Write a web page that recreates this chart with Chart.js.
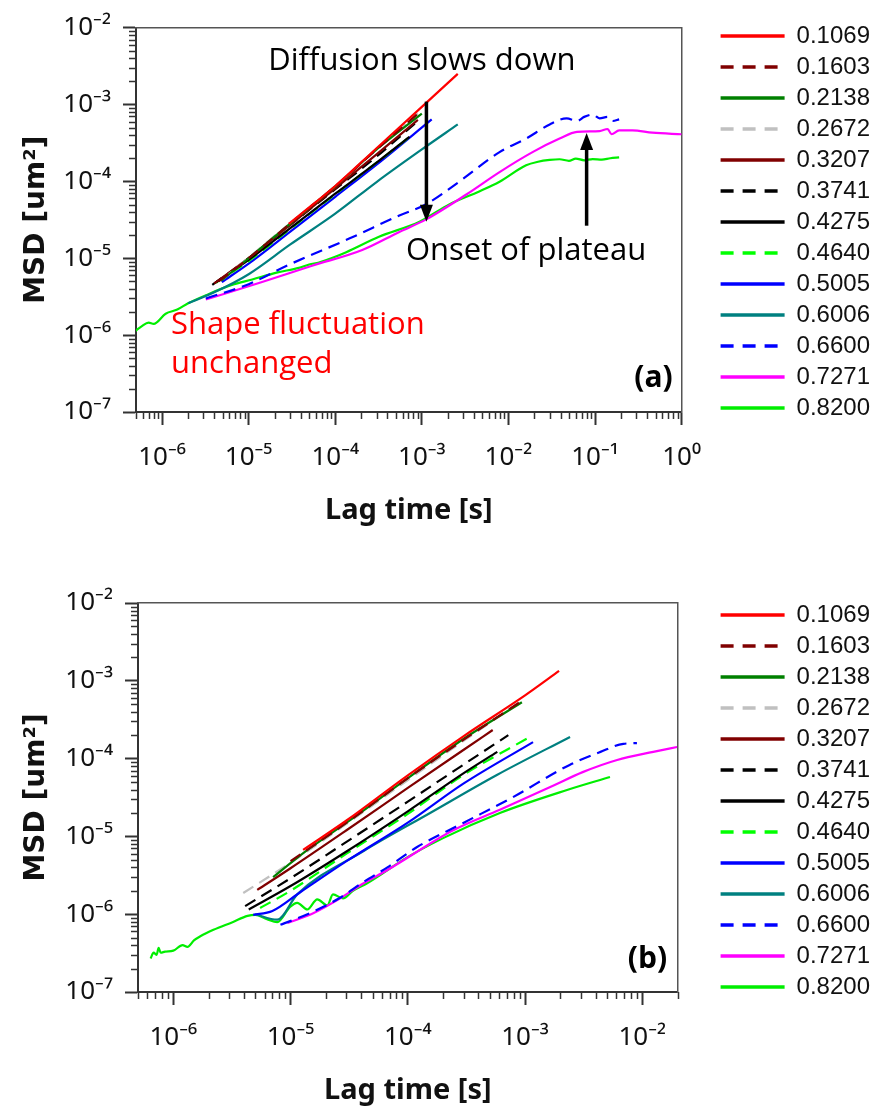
<!DOCTYPE html>
<html>
<head>
<meta charset="utf-8">
<script src="https://cdn.jsdelivr.net/npm/chart.js@4.4.1/dist/chart.umd.min.js"></script>
<style>
  html, body { margin: 0; padding: 0; background: #fff; }
  .panel { position: absolute; left: 0; width: 880px; height: 555px; }
  #panelA { top: 0; }
  #panelB { top: 555px; }
</style>
</head>
<body>
<div class="panel" id="panelA"><canvas id="chartA"></canvas></div>
<div class="panel" id="panelB"><canvas id="chartB"></canvas></div>
<script>
// MSD vs lag time, two log-log panels

const seriesLabels = ['0.1069', '0.1603', '0.2138', '0.2672', '0.3207', '0.3741', '0.4275',
                      '0.4640', '0.5005', '0.6006', '0.6600', '0.7271', '0.8200'];
const seriesColors = ['#ff0000', '#800000', '#008000', '#c0c0c0', '#800000', '#000000', '#000000',
                      '#00ff00', '#0000ff', '#008080', '#0000ff', '#ff00ff', '#00ee00'];
const seriesDashed = [false, true, false, true, false, true, false, true, false, false, true, false, false];

// tick labels
const yTickValues = [1e-7, 1e-6, 1e-5, 1e-4, 1e-3, 1e-2];
const yTickLabels = ['10⁻⁷', '10⁻⁶', '10⁻⁵', '10⁻⁴', '10⁻³', '10⁻²'];
const xTickValuesA = [1e-6, 1e-5, 1e-4, 1e-3, 1e-2, 1e-1, 1];
const xTickLabelsA = ['10⁻⁶', '10⁻⁵', '10⁻⁴', '10⁻³', '10⁻²', '10⁻¹', '10⁰'];
const xTickValuesB = [1e-6, 1e-5, 1e-4, 1e-3, 1e-2];
const xTickLabelsB = ['10⁻⁶', '10⁻⁵', '10⁻⁴', '10⁻³', '10⁻²'];

// panel (a): [lag time (s), MSD (um^2)]
const a1069 = [[2.9e-5, 2.8e-5], [6e-5, 5.4e-5], [1e-4, 8.7e-5], [3e-4, 2.7e-4], [1e-3, 9.3e-4], [2.6e-3, 2.5e-3]];
const a1603 = [[4.5e-6, 5e-6], [1e-5, 1e-5], [3e-5, 2.8e-5], [1e-4, 8.6e-5], [3e-4, 2.6e-4], [1e-3, 8.4e-4]];
const a2138 = [[4.8e-6, 5.1e-6], [1e-5, 1e-5], [3e-5, 2.8e-5], [1e-4, 8.6e-5], [3e-4, 2.6e-4], [1e-3, 7.6e-4]];
const a2672 = [[5e-6, 5.3e-6], [1e-5, 1.02e-5], [3e-5, 2.85e-5], [1e-4, 8.7e-5], [3e-4, 2.6e-4], [9e-4, 7.6e-4]];
const a3207 = [[4e-6, 4.7e-6], [1e-5, 1e-5], [3e-5, 2.7e-5], [1e-4, 8.1e-5], [3e-4, 2.25e-4], [9e-4, 6.3e-4]];
const a3741 = [[3.8e-6, 4.5e-6], [1e-5, 1e-5], [3e-5, 2.7e-5], [1e-4, 7.9e-5], [3e-4, 2.1e-4], [8.9e-4, 6.05e-4]];
const a4275 = [[4.2e-6, 4.9e-6], [1e-5, 9.5e-6], [3e-5, 2.45e-5], [1e-4, 6.9e-5], [3e-4, 1.75e-4], [7.2e-4, 3.8e-4]];
const a4640 = [[4.2e-6, 4.8e-6], [1e-5, 9.2e-6], [3e-5, 2.4e-5], [1e-4, 6.8e-5], [3e-4, 1.75e-4], [7.5e-4, 3.9e-4]];
const a5005 = [[4.9e-6, 4.9e-6], [1e-5, 8.5e-6], [3e-5, 2.2e-5], [1e-4, 6.3e-5], [3e-4, 1.65e-4], [1.3e-3, 6.4e-4]];
const a6006 = [[2e-6, 2.6e-6], [4e-6, 3.6e-6], [1e-5, 6.2e-6], [3e-5, 1.5e-5], [1e-4, 3.8e-5], [3e-4, 9.8e-5],
               [1e-3, 2.6e-4], [2.6e-3, 5.5e-4]];
const a6600 = [[3.2e-6, 3.0e-6], [1e-5, 4.6e-6], [2.9e-5, 8.2e-6], [1.45e-4, 1.8e-5], [5.5e-4, 3.6e-5],
               [1.12e-3, 5.05e-5], [2.7e-3, 9.9e-5], [7.9e-3, 2.4e-4], [1.6e-2, 3.6e-4], [3e-2, 5.5e-4],
               [4.7e-2, 6.6e-4], [6.2e-2, 6.1e-4], [7.5e-2, 6.9e-4], [9.4e-2, 7.4e-4], [0.113, 6.6e-4],
               [0.14, 6.9e-4], [0.16, 6.1e-4], [0.19, 6.4e-4]];
const a7271 = [[3.2e-6, 2.9e-6], [1.43e-5, 4.9e-6], [5.4e-5, 8e-6], [2.05e-4, 1.28e-5], [5.5e-4, 2.2e-5],
               [1.12e-3, 3.2e-5], [3.3e-3, 6.8e-5], [7.9e-3, 1.32e-4], [1.9e-2, 2.4e-4], [3.9e-2, 3.6e-4],
               [6.2e-2, 4.4e-4], [0.113, 4.5e-4], [0.14, 4.8e-4], [0.155, 4.1e-4], [0.19, 4.6e-4],
               [0.27, 4.6e-4], [0.46, 4.3e-4], [1.0, 4.1e-4]];
const a8200 = [[4.9e-7, 1.13e-6], [5.8e-7, 1.3e-6], [7e-7, 1.45e-6], [8e-7, 1.4e-6], [1.1e-6, 1.9e-6],
               [1.5e-6, 2.15e-6], [2e-6, 2.6e-6], [3.2e-6, 3.3e-6], [6.4e-6, 4.5e-6], [1.1e-5, 5.3e-6],
               [2.1e-5, 6.5e-6], [3.8e-5, 7.5e-6], [5e-5, 8.3e-6], [6.5e-5, 8.8e-6], [9e-5, 1.0e-5],
               [1.34e-4, 1.2e-5], [3.2e-4, 1.9e-5], [9.4e-4, 2.98e-5], [2.1e-3, 5.05e-5], [4.6e-3, 7.4e-5],
               [7.9e-3, 9.9e-5], [1.6e-2, 1.62e-4], [2.2e-2, 1.8e-4], [3e-2, 1.9e-4], [3.9e-2, 1.94e-4],
               [5e-2, 1.85e-4], [6e-2, 1.98e-4], [7.5e-2, 1.88e-4], [9.4e-2, 1.95e-4], [0.12, 1.92e-4],
               [0.15, 2.0e-4], [0.19, 2.05e-4]];

// panel (b)
const b1069 = [[1.28e-5, 6.7e-6], [3e-5, 1.6e-5], [1e-4, 6.1e-5], [3e-4, 1.95e-4], [1e-3, 6.5e-4], [1.95e-3, 1.34e-3]];
const b1603 = [[1e-5, 4.8e-6], [3e-5, 1.5e-5], [1e-4, 5.6e-5], [3e-4, 1.75e-4], [9e-4, 5.3e-4]];
const b2138 = [[7.1e-6, 3.0e-6], [1.3e-5, 6.2e-6], [3e-5, 1.5e-5], [1e-4, 5.6e-5], [3e-4, 1.8e-4], [9.4e-4, 5.3e-4]];
const b2672 = [[3.95e-6, 1.87e-6], [1e-5, 4.6e-6], [3e-5, 1.45e-5], [1e-4, 5.3e-5], [3e-4, 1.7e-4], [8.5e-4, 5e-4]];
const b3207 = [[5.2e-6, 2.05e-6], [1e-5, 3.9e-6], [3e-5, 1.2e-5], [1e-4, 4.2e-5], [3e-4, 1.3e-4], [5.3e-4, 2.33e-4]];
const b3741 = [[4.1e-6, 1.27e-6], [1e-5, 2.9e-6], [3e-5, 8.5e-6], [1e-4, 2.8e-5], [3e-4, 8.4e-5], [7.2e-4, 2.0e-4]];
const b4275 = [[4.4e-6, 1.15e-6], [1e-5, 2.3e-6], [3e-5, 6.4e-6], [1e-4, 2.1e-5], [3e-4, 6.5e-5], [5.8e-4, 1.22e-4]];
const b4640 = [[5.5e-6, 1.2e-6], [1e-5, 2.0e-6], [3e-5, 6.0e-6], [1e-4, 1.95e-5], [3e-4, 6.2e-5], [1.1e-3, 1.9e-4]];
const b5005 = [[4.8e-6, 9.8e-7], [7e-6, 1.1e-6], [1.2e-5, 1.9e-6], [3e-5, 4.8e-6], [1e-4, 1.5e-5], [3e-4, 4.8e-5],
               [1.17e-3, 1.63e-4]];
const b6006 = [[5e-6, 1.0e-6], [7.7e-6, 8.5e-7], [1.14e-5, 1.8e-6], [4.2e-5, 6.5e-6], [1.55e-4, 2.0e-5],
               [5.8e-4, 6.2e-5], [2.42e-3, 1.9e-4]];
const b6600 = [[8.2e-6, 7.3e-7], [1.5e-5, 1.05e-6], [2.6e-5, 1.6e-6], [4.2e-5, 2.6e-6], [6.7e-5, 4.0e-6],
               [1.2e-4, 7.3e-6], [3e-4, 1.5e-5], [7.9e-4, 3.2e-5], [2.4e-3, 8.3e-5], [4.4e-3, 1.22e-4],
               [6.9e-3, 1.55e-4], [9e-3, 1.58e-4]];
const b7271 = [[9.4e-6, 7.7e-7], [1.56e-5, 1.03e-6], [2.65e-5, 1.6e-6], [4.2e-5, 2.5e-6], [6.7e-5, 3.7e-6],
               [2.44e-4, 1.2e-5], [6.1e-4, 2.2e-5], [1.64e-3, 4.3e-5], [3.1e-3, 6.7e-5], [6.1e-3, 9.6e-5],
               [1.24e-2, 1.22e-4], [1.98e-2, 1.41e-4]];
const b8200 = [[6.4e-7, 2.7e-7], [6.8e-7, 3.2e-7], [7.2e-7, 3.0e-7], [7.5e-7, 3.7e-7], [7.8e-7, 3.2e-7],
               [8.5e-7, 3.3e-7], [1e-6, 3.4e-7], [1.2e-6, 4.0e-7], [1.32e-6, 3.8e-7], [1.5e-6, 4.6e-7],
               [1.7e-6, 5.2e-7], [2.2e-6, 6.3e-7], [3.2e-6, 7.9e-7], [4.3e-6, 9.5e-7], [5e-6, 9.8e-7],
               [6.3e-6, 8.6e-7], [7.7e-6, 7.9e-7], [9.9e-6, 1.24e-6], [1.14e-5, 1.4e-6], [1.39e-5, 1.15e-6],
               [1.69e-5, 1.55e-6], [2.06e-5, 1.3e-6], [2.3e-5, 1.8e-6], [2.8e-5, 1.6e-6], [3.4e-5, 2.0e-6],
               [4.5e-5, 2.5e-6], [6.2e-5, 3.4e-6], [9.1e-5, 5.0e-6], [2e-4, 9.5e-6], [6.1e-4, 2.0e-5],
               [2.28e-3, 3.95e-5], [5.3e-3, 5.8e-5]];

const seriesA = [a1069, a1603, a2138, a2672, a3207, a3741, a4275, a4640, a5005, a6006, a6600, a7271, a8200];
const seriesB = [b1069, b1603, b2138, b2672, b3207, b3741, b4275, b4640, b5005, b6006, b6600, b7271, b8200];

Chart.defaults.font.family = "'Noto Sans', 'DejaVu Sans', sans-serif";
Chart.defaults.color = '#111';

// every decade gets 1..9 ticks; only decades are labelled
function logTicks(min, max) {
  const ticks = [];
  for (let e = Math.floor(Math.log10(min)); e <= Math.ceil(Math.log10(max)); e++) {
    for (let k = 1; k <= 9; k++) {
      const v = k * Math.pow(10, e);
      if (v >= min * 0.999 && v <= max * 1.001) ticks.push({ value: v, major: k === 1 });
    }
  }
  return ticks;
}

function tickLabel(value, values, labels) {
  const i = values.findIndex(t => Math.abs(value / t - 1) < 1e-6);
  return i >= 0 ? labels[i] : '';
}

// short minor tick marks
const minorTicks = {
  id: 'minorTicks',
  afterDraw(chart) {
    const { ctx, chartArea } = chart;
    ctx.save();
    ctx.strokeStyle = '#333';
    ctx.lineWidth = 1.5;
    ['x', 'y'].forEach(id => {
      const scale = chart.scales[id];
      scale.ticks.forEach(t => {
        if (t.major) return;
        const p = Math.round(scale.getPixelForValue(t.value)) + 0.5;
        ctx.beginPath();
        if (id === 'x') {
          ctx.moveTo(p, chartArea.bottom);
          ctx.lineTo(p, chartArea.bottom + 7);
        } else {
          ctx.moveTo(chartArea.left, p);
          ctx.lineTo(chartArea.left - 7, p);
        }
        ctx.stroke();
      });
    });
    ctx.restore();
  }
};

// arrows and text notes, placed in data coordinates
const notes = {
  id: 'notes',
  afterDatasetsDraw(chart, args, opts) {
    const { ctx } = chart;
    const xs = chart.scales.x, ys = chart.scales.y;
    ctx.save();
    (opts.arrows || []).forEach(a => {
      const px = xs.getPixelForValue(a.x);
      const y0 = ys.getPixelForValue(a.from);
      const y1 = ys.getPixelForValue(a.to);
      const dir = Math.sign(y1 - y0);
      ctx.strokeStyle = '#000';
      ctx.fillStyle = '#000';
      ctx.lineWidth = 3.5;
      ctx.beginPath();
      ctx.moveTo(px, y0);
      ctx.lineTo(px, y1 - dir * 12);
      ctx.stroke();
      ctx.beginPath();
      ctx.moveTo(px, y1);
      ctx.lineTo(px - 6.5, y1 - dir * 17);
      ctx.lineTo(px + 6.5, y1 - dir * 17);
      ctx.closePath();
      ctx.fill();
    });
    (opts.texts || []).forEach(t => {
      ctx.font = t.font;
      ctx.fillStyle = t.color;
      ctx.textAlign = t.align;
      ctx.textBaseline = 'alphabetic';
      ctx.fillText(t.text, xs.getPixelForValue(t.x), ys.getPixelForValue(t.y));
    });
    ctx.restore();
  }
};

function makeChart(canvasId, series, xMin, xMax, xVals, xLabels, lay, noteOpts) {
  const datasets = series.map((pts, i) => ({
    label: seriesLabels[i],
    data: pts.map(p => ({ x: p[0], y: p[1] })),
    borderColor: seriesColors[i],
    backgroundColor: seriesColors[i],
    borderWidth: 2.2,
    borderDash: seriesDashed[i] ? [12, 7] : [],
    pointRadius: 0,
    pointHoverRadius: 0,
    cubicInterpolationMode: 'monotone',
    fill: false,
    xAxisID: 'x',
    yAxisID: 'y'
  }));

  const majorColor = c => (c.tick && c.tick.major ? '#333' : 'rgba(0,0,0,0)');

  return new Chart(document.getElementById(canvasId), {
    type: 'line',
    data: { datasets },
    plugins: [minorTicks, notes],
    options: {
      responsive: true,
      maintainAspectRatio: false,
      animation: false,
      events: [],
      layout: { padding: { top: lay.top, left: 0, right: 0, bottom: 0 } },
      plugins: {
        tooltip: { enabled: false },
        legend: {
          position: 'right',
          align: 'start',
          maxWidth: 240,
          labels: {
            usePointStyle: true,
            pointStyle: 'line',
            pointStyleWidth: 64,
            padding: 7,
            color: '#111',
            font: { family: "'Liberation Sans', Arial, sans-serif", size: 24 },
            generateLabels(chart) {
              const items = Chart.defaults.plugins.legend.labels.generateLabels(chart);
              items.forEach((it, i) => {
                it.lineWidth = 3.5;
                it.lineDash = seriesDashed[i] ? [13, 9] : [];
              });
              return items;
            }
          }
        },
        notes: noteOpts
      },
      scales: {
        x: {
          type: 'logarithmic',
          position: 'bottom',
          min: xMin,
          max: xMax,
          afterBuildTicks: s => { s.ticks = logTicks(xMin, xMax); },
          afterFit: s => { s.height = lay.xHeight; },
          grid: { drawOnChartArea: false, drawTicks: true, tickLength: 13, tickWidth: 2, tickColor: majorColor },
          border: { display: true, color: '#333', width: 2 },
          ticks: {
            autoSkip: false, maxRotation: 0, minRotation: 0, padding: 17,
            color: '#111', font: { size: 26 },
            callback: v => tickLabel(v, xVals, xLabels)
          },
          title: {
            display: true, text: 'Lag time [s]', color: '#111',
            font: { size: 29, weight: 'bold' }, padding: { top: 0, bottom: lay.xTitlePad }
          }
        },
        y: {
          type: 'logarithmic',
          position: 'left',
          min: 1e-7,
          max: 1e-2,
          afterBuildTicks: s => { s.ticks = logTicks(1e-7, 1e-2); },
          afterFit: s => { s.width = lay.yWidth; },
          grid: { drawOnChartArea: false, drawTicks: true, tickLength: 13, tickWidth: 2, tickColor: majorColor },
          border: { display: true, color: '#333', width: 2 },
          ticks: {
            autoSkip: false, padding: 12, color: '#111', font: { size: 26 },
            callback: v => tickLabel(v, yTickValues, yTickLabels)
          },
          title: {
            display: true, text: 'MSD [um²]', color: '#111',
            font: { family: "'DejaVu Sans', sans-serif", size: 28, weight: 'bold' },
            padding: { top: lay.yTitlePad, bottom: 0 }
          }
        },
        x2: {
          type: 'linear', position: 'top', min: 0, max: 1,
          grid: { display: false, drawTicks: false }, ticks: { display: false },
          border: { display: true, color: '#555', width: 1.5 },
          afterFit: s => { s.height = lay.topGap; }
        },
        y2: {
          type: 'linear', position: 'right', min: 0, max: 1,
          grid: { display: false, drawTicks: false }, ticks: { display: false },
          border: { display: true, color: '#555', width: 1.5 },
          afterFit: s => { s.width = lay.rightGap; }
        }
      }
    }
  });
}

const noteFont = "31px 'Open Sans', 'Noto Sans', sans-serif";
const tagFont = "bold 30px 'Open Sans', 'Noto Sans', sans-serif";

makeChart('chartA', seriesA, 5e-7, 1, xTickValuesA, xTickLabelsA,
  { top: 17, topGap: 2, yWidth: 136, rightGap: 32, xHeight: 143, xTitlePad: 27, yTitlePad: 20 },
  {
    arrows: [
      { x: 1.13e-3, from: 1.09e-3, to: 2.98e-5 },
      { x: 8.0e-2, from: 2.65e-5, to: 4.26e-4 }
    ],
    texts: [
      { text: 'Diffusion slows down', x: 1e-3, y: 2.8e-3, align: 'center', color: '#000', font: noteFont },
      { text: 'Onset of plateau', x: 1.6e-2, y: 9.5e-6, align: 'center', color: '#000', font: noteFont },
      { text: 'Shape fluctuation', x: 1.27e-6, y: 1.035e-6, align: 'left', color: '#ff0000', font: noteFont },
      { text: 'unchanged', x: 1.27e-6, y: 3.2e-7, align: 'left', color: '#ff0000', font: noteFont },
      { text: '(a)', x: 0.79, y: 2.14e-7, align: 'right', color: '#000', font: tagFont }
    ]
  });

makeChart('chartB', seriesB, 5e-7, 2e-2, xTickValuesB, xTickLabelsB,
  { top: 41, topGap: 7, yWidth: 138, rightGap: 36, xHeight: 118, xTitlePad: 2, yTitlePad: 20 },
  {
    texts: [
      { text: '(b)', x: 1.63e-2, y: 2.04e-7, align: 'right', color: '#000', font: tagFont }
    ]
  });
</script>
</body>
</html>
